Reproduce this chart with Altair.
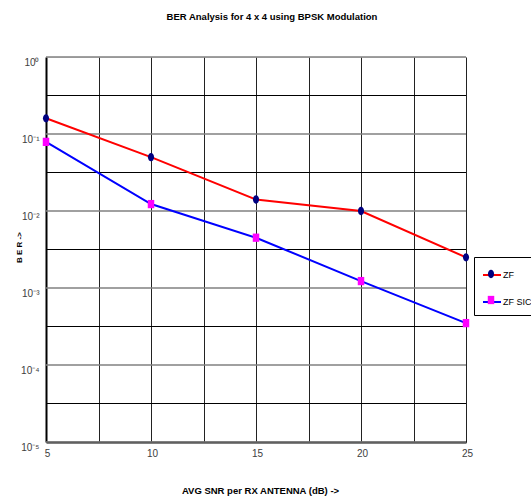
import altair as alt
import pandas as pd

# ---- data ----
snr = [5, 10, 15, 20, 25]
ber_zf = [0.16, 0.050, 0.0141, 0.0100, 0.0025]
ber_zf_sic = [0.079, 0.0123, 0.0045, 0.00123, 0.00035]
series_names = ["ZF", "ZF SIC"]
marker_keys = ["ZF ", "ZF SIC "]

y_decades = [1, 0.1, 0.01, 0.001, 0.0001, 0.00001]
y_half_decades = [0.3162, 0.03162, 0.003162, 0.0003162, 0.00003162]
x_grid = [5, 7.5, 10, 12.5, 15, 17.5, 20, 22.5, 25]

line_colors = ["#FF0000", "#0000FF"]
marker_colors = ["#000080", "#FF00FF"]
# small ellipse / rectangle inside the unit symbol box
marker_shapes = [
    "M-0.34,0A0.34,0.46 0 1,0 0.34,0A0.34,0.46 0 1,0 -0.34,0Z",
    "M-0.36,-0.46H0.36V0.46H-0.36Z",
]
line_symbol = "M-1,0H1"

rows = []
for name, key, vals in zip(series_names, marker_keys, [ber_zf, ber_zf_sic]):
    for s, b in zip(snr, vals):
        rows.append({"snr": s, "ber": b, "series": name, "series_m": key})
df = pd.DataFrame(rows)

FONT = "Liberation Sans"
SYM = 324

xscale = alt.Scale(domain=[5, 25], nice=False, zero=False)
yscale = alt.Scale(type="log", domain=[0.00001, 1], nice=False)

label_expr = ("'10' + ['\u2070','\u207b\u00b9','\u207b\u00b2','\u207b\u00b3','\u207b\u2074','\u207b\u2075']"
              "[round(-log(datum.value)/LN10)]")

major = alt.Chart(pd.DataFrame({"ber": y_decades})).mark_rule(
    color="#808080", strokeWidth=1.5
).encode(y=alt.Y("ber:Q", scale=yscale))

minor = alt.Chart(pd.DataFrame({"ber": y_half_decades})).mark_rule(
    color="black", strokeWidth=1
).encode(y=alt.Y("ber:Q", scale=yscale))

base = alt.Chart(df)

lines = base.mark_line(strokeWidth=2).encode(
    x=alt.X(
        "snr:Q", scale=xscale,
        axis=alt.Axis(
            values=x_grid,
            labelExpr="datum.value % 5 == 0 ? datum.value : ''",
            grid=True, gridColor="#222222", gridWidth=1,
            ticks=False, domain=True, domainColor="black", domainWidth=2,
            labelFont=FONT, labelFontSize=10, labelColor="#404040", labelPadding=6,
            labelFlush=False, labelOffset=1,
            title="AVG SNR per RX ANTENNA (dB) ->",
            titleFont=FONT, titleFontSize=9.5, titleFontWeight="bold", titleColor="black",
            titleX=214, titleY=48, titleBaseline="middle",
        ),
    ),
    y=alt.Y(
        "ber:Q", scale=yscale,
        axis=alt.Axis(
            values=y_decades, labelExpr=label_expr,
            grid=False, ticks=False, domain=True, domainColor="black", domainWidth=2,
            labelFont=FONT, labelFontSize=10, labelColor="#404040", labelPadding=7,
            labelOffset=5,
            title="B E R ->",
            titleFont=FONT, titleFontSize=8, titleFontWeight="bold", titleColor="black",
            titleX=-27, titleY=190, titleBaseline="middle", titleAlign="center",
            titleAngle=270,
        ),
    ),
    color=alt.Color(
        "series:N",
        scale=alt.Scale(domain=series_names, range=line_colors),
        legend=alt.Legend(
            title=None, orient="none", legendX=428, legendY=200,
            direction="vertical",
            symbolType=line_symbol, symbolSize=SYM, symbolStrokeWidth=2,
            labelFont=FONT, labelFontSize=9, labelColor="black", labelOffset=1,
            padding=8, rowPadding=12,
            strokeColor="black", zindex=1,
        ),
    ),
)

marker_legend = alt.Legend(
    title=None, orient="none", legendX=428, legendY=200,
    direction="vertical",
    symbolSize=SYM, symbolStrokeWidth=0,
    labelExpr="''", labelFontSize=9, labelOffset=1,
    padding=8, rowPadding=12, zindex=2,
)

points = base.mark_point(filled=True, size=SYM, opacity=1, strokeWidth=0).encode(
    x=alt.X("snr:Q", scale=xscale),
    y=alt.Y("ber:Q", scale=yscale),
    fill=alt.Fill(
        "series_m:N",
        scale=alt.Scale(domain=marker_keys, range=marker_colors),
        legend=marker_legend,
    ),
    shape=alt.Shape(
        "series_m:N",
        scale=alt.Scale(domain=marker_keys, range=marker_shapes),
        legend=marker_legend,
    ),
)

chart = alt.layer(major, minor, lines, points).properties(
    width=420,
    height=385,
    autosize=alt.AutoSizeParams(type="none"),
    padding={"left": 46, "top": 57, "right": 65, "bottom": 54},
    title=alt.TitleParams(
        text="BER Analysis for 4 x 4 using BPSK Modulation",
        font=FONT, fontSize=9.5, fontWeight="bold", color="black",
        anchor="middle", offset=35, dx=16,
    ),
).configure_view(stroke="black", strokeWidth=1).configure(background="white")

chart.save("out.html", embed_options={"renderer": "svg", "actions": False})
